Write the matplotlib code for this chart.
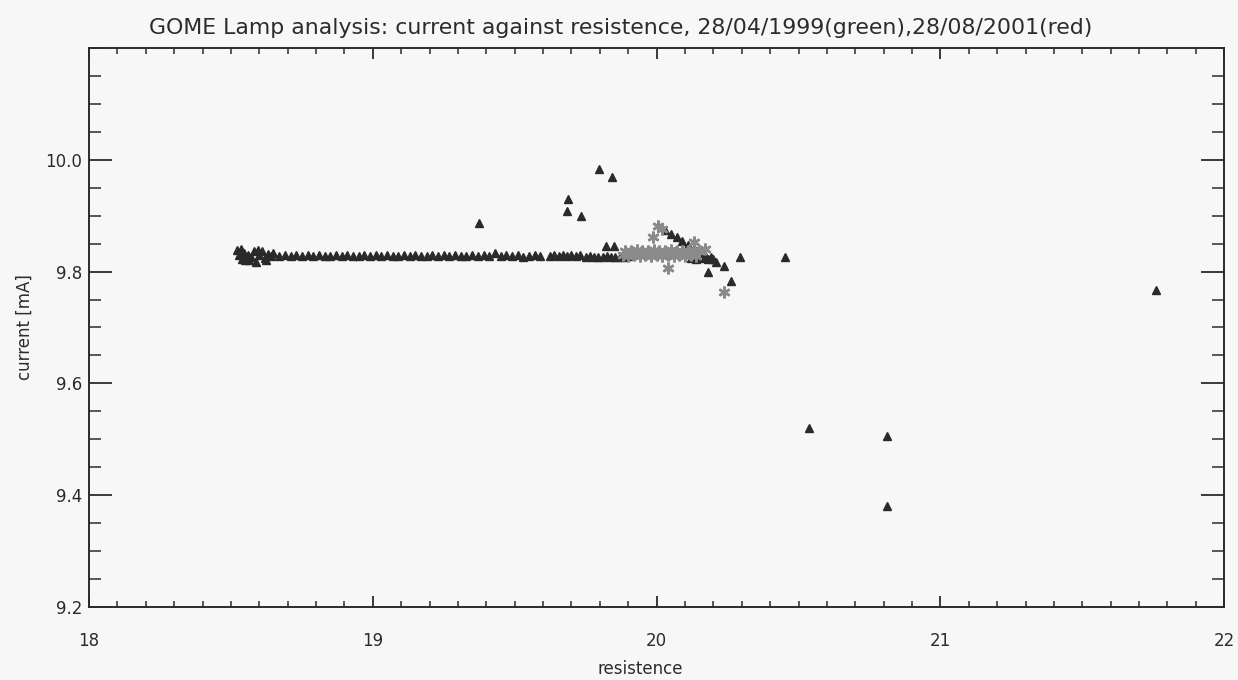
#Se importan las librerías para graficar
import matplotlib.pyplot as plt
from matplotlib.ticker import MultipleLocator, FixedLocator

#Datos del 28/08/2001 (rojo): resistencia y corriente de la lámpara
resistencia_rojo = [
    18.52, 18.53, 18.54, 18.545, 18.55, 18.56, 18.57, 18.58, 18.59, 18.60,
    18.61, 18.62, 18.63, 18.64, 18.65, 18.535, 18.565, 18.595, 18.625,
    18.67, 18.69, 18.71, 18.73, 18.75, 18.77, 18.79, 18.81, 18.83, 18.85,
    18.87, 18.89, 18.91, 18.93, 18.95, 18.97, 18.99, 19.01, 19.03, 19.05,
    19.07, 19.09, 19.11, 19.13, 19.15, 19.17, 19.19, 19.21, 19.23, 19.25,
    19.27, 19.29, 19.31, 19.33, 19.35, 19.37, 19.39, 19.41, 19.43, 19.45,
    19.47, 19.49, 19.51, 19.53, 19.55, 19.57, 19.59,
    19.625, 19.64, 19.655, 19.67, 19.685, 19.70, 19.715, 19.73,
    19.75, 19.765, 19.78, 19.795, 19.81, 19.825, 19.84, 19.855, 19.87,
    19.82, 19.85, 19.89, 19.90,
    20.03, 20.05, 20.07, 20.09, 20.11, 20.13, 20.15, 20.17, 20.19, 20.20,
    20.21, 20.12, 20.14, 20.16, 20.18, 20.18,
    19.375, 19.684, 19.688, 19.733, 19.796, 19.842,
    20.239, 20.263, 20.295, 20.453, 20.537, 20.81, 20.81, 21.758,
]
corriente_rojo = [
    9.838, 9.830, 9.822, 9.834, 9.820, 9.830, 9.826, 9.836, 9.818, 9.829,
    9.836, 9.824, 9.831, 9.828, 9.834, 9.840, 9.821, 9.839, 9.820,
    9.828, 9.829, 9.828, 9.830, 9.828, 9.829, 9.828, 9.830, 9.828, 9.828,
    9.829, 9.828, 9.830, 9.828, 9.828, 9.829, 9.828, 9.830, 9.828, 9.829,
    9.828, 9.828, 9.830, 9.828, 9.829, 9.828, 9.828, 9.829, 9.828, 9.830,
    9.828, 9.829, 9.828, 9.828, 9.830, 9.828, 9.829, 9.828, 9.833, 9.828,
    9.829, 9.828, 9.830, 9.826, 9.828, 9.829, 9.828,
    9.828, 9.830, 9.828, 9.829, 9.828, 9.830, 9.828, 9.829,
    9.826, 9.828, 9.826, 9.827, 9.826, 9.828, 9.826, 9.827, 9.826,
    9.845, 9.845, 9.826, 9.828,
    9.875, 9.868, 9.862, 9.855, 9.848, 9.842, 9.836, 9.830, 9.826, 9.822,
    9.818, 9.824, 9.822, 9.824, 9.822, 9.800,
    9.887, 9.909, 9.930, 9.900, 9.984, 9.970,
    9.810, 9.784, 9.826, 9.826, 9.520, 9.506, 9.381, 9.767,
]

#Datos del 28/04/1999 (verde)
resistencia_verde = [
    19.88, 19.89, 19.90, 19.91, 19.92, 19.93, 19.94, 19.95, 19.96, 19.97,
    19.98, 19.99, 20.00, 20.01, 20.02, 20.03, 20.04, 20.05, 20.06, 20.07,
    20.08, 20.09, 20.10, 20.11, 20.12, 20.13, 20.14, 20.15,
    19.986, 20.005, 20.02, 20.04, 20.13, 20.17, 20.239,
]
corriente_verde = [
    9.829, 9.837, 9.828, 9.836, 9.829, 9.838, 9.828, 9.836, 9.829, 9.837,
    9.828, 9.838, 9.829, 9.836, 9.828, 9.837, 9.829, 9.838, 9.828, 9.836,
    9.829, 9.837, 9.828, 9.836, 9.829, 9.838, 9.828, 9.836,
    9.862, 9.882, 9.876, 9.807, 9.853, 9.840, 9.764,
]

#Valores marcados en el eje de la corriente
marcas_corriente = [9.2, 9.4, 9.6, 9.8, 10.0]

#Colores del texto, de los ejes y del fondo
color_texto = '#2b2b2b'
fondo = '#f7f7f7'

#Se crea la figura y los ejes
fig = plt.figure(figsize=(12.38, 6.8), dpi=100, facecolor=fondo)
ax = fig.add_axes([0.0719, 0.1074, 0.917, 0.822], facecolor=fondo)

#Se dibujan los puntos: triángulos para 2001 y asteriscos para 1999
ax.plot(resistencia_rojo, corriente_rojo, linestyle='none', marker='^',
        markersize=6, color='#2a2a2a', markeredgewidth=1.0)
ax.plot(resistencia_verde, corriente_verde, linestyle='none', marker=(6, 2, 0),
        markersize=8.5, color='#8a8a8a', markeredgewidth=1.8)

#Límites de los ejes
ax.set_xlim(18, 22)
ax.set_ylim(9.2, 10.2)

#Marcas principales y secundarias hacia dentro, en los cuatro lados
ax.xaxis.set_major_locator(MultipleLocator(1))
ax.xaxis.set_minor_locator(MultipleLocator(0.1))
ax.yaxis.set_major_locator(FixedLocator(marcas_corriente))
ax.yaxis.set_minor_locator(MultipleLocator(0.05))
ax.yaxis.set_major_formatter(plt.FuncFormatter(lambda v, p: f'{v:.1f}'))
ax.tick_params(axis='x', which='major', direction='in', length=8, width=1.3,
               top=True, pad=18, labelsize=12, colors=color_texto)
ax.tick_params(axis='x', which='minor', direction='in', length=4, width=1.1,
               top=True, colors=color_texto)
ax.tick_params(axis='y', which='major', direction='in', length=16.5, width=1.3,
               right=True, pad=5, labelsize=12, colors=color_texto)
ax.tick_params(axis='y', which='minor', direction='in', length=8.5, width=1.1,
               right=True, colors=color_texto)
for lado in ax.spines.values():
    lado.set_color(color_texto)
    lado.set_linewidth(1.4)

#Títulos de los ejes y de la gráfica
ax.set_xlabel('resistence', fontsize=12, color=color_texto, labelpad=6)
ax.xaxis.set_label_coords(0.486, -0.095)
ax.set_ylabel('current [mA]', fontsize=12, color=color_texto, labelpad=8)
ax.set_title('GOME Lamp analysis: current against resistence, '
             '28/04/1999(green),28/08/2001(red)',
             fontsize=15.8, color=color_texto, pad=10, x=0.468)

#Se guarda la figura
fig.savefig('out.png', dpi=100, facecolor=fondo)
